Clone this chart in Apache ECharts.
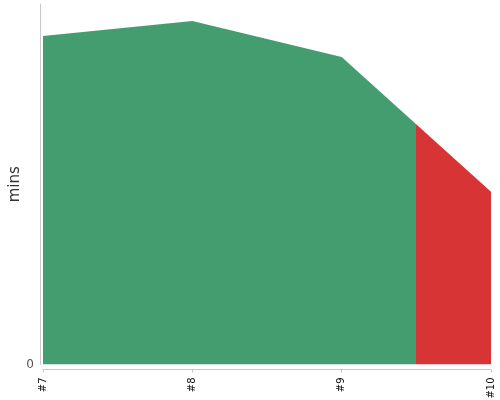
<!DOCTYPE html>
<html>
<head>
<meta charset="utf-8">
<script src="https://cdn.jsdelivr.net/npm/echarts@6/dist/echarts.min.js"></script>
<style>html,body{margin:0;padding:0;background:#fff}#c{width:500px;height:400px}</style>
</head>
<body>
<div id="c"></div>
<script>
const categories = ['#7', '#8', '#9', '#10'];
const minutes = [91.1, 95.3, 85.3, 47.9];
const breakIndex = 2.5; // colour changes half-way between #9 and #10
const yMax = 100;
const greenColor = '#449d6e';
const redColor = '#d73535';

const stop = breakIndex / (categories.length - 1);
const fill = new echarts.graphic.LinearGradient(0, 0, 1, 0, [
  {offset: 0, color: greenColor},
  {offset: stop, color: greenColor},
  {offset: stop, color: redColor},
  {offset: 1, color: redColor}
]);

const chart = echarts.init(document.getElementById('c'), null, {renderer: 'canvas'});
chart.setOption({
  animation: false,
  grid: {left: 43, right: 9, top: 4, bottom: 35.5, containLabel: false, outerBoundsMode: 'none'},
  xAxis: {
    type: 'category',
    data: categories,
    boundaryGap: false,
    offset: 5,
    axisLine: {onZero: false, lineStyle: {color: '#c8c8c8'}},
    axisTick: {alignWithLabel: true, length: 3, lineStyle: {color: '#c8c8c8'}},
    axisLabel: {rotate: 90, fontSize: 10, color: '#111', fontFamily: 'DejaVu Sans', margin: 8}
  },
  yAxis: {
    type: 'value',
    min: 0,
    max: yMax,
    offset: 3,
    name: 'mins',
    nameLocation: 'middle',
    nameGap: 17,
    nameMoveOverlap: false,
    nameTextStyle: {fontSize: 15, color: '#333', fontFamily: 'DejaVu Sans'},
    splitLine: {show: false},
    axisLine: {show: true, lineStyle: {color: '#c8c8c8'}},
    axisTick: {show: false},
    axisLabel: {
      fontSize: 12, color: '#555', fontFamily: 'DejaVu Sans', margin: 6,
      formatter: v => (v === 0 ? '0' : '')
    }
  },
  series: [{
    type: 'line',
    data: minutes,
    showSymbol: false,
    symbol: 'none',
    lineStyle: {width: 0, color: fill},
    itemStyle: {color: greenColor},
    areaStyle: {opacity: 1, color: fill}
  }]
});
</script>
</body>
</html>
